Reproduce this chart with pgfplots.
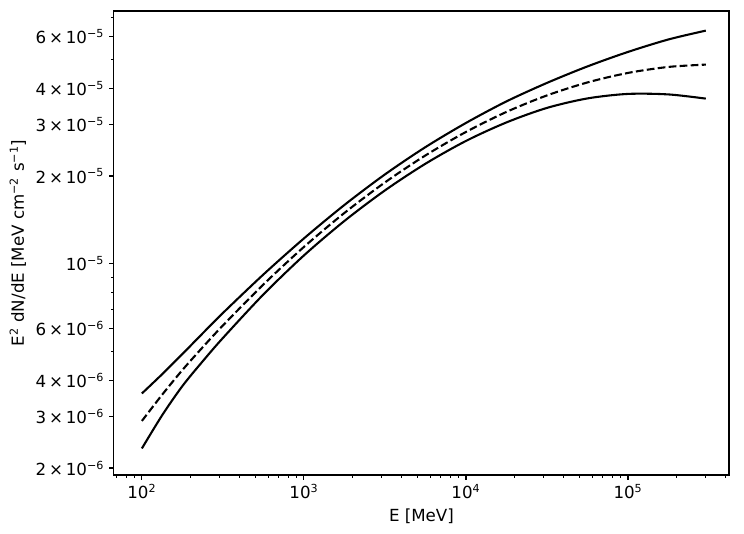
\documentclass[border=0pt]{standalone}
\usepackage{fontspec}
\setmainfont{DejaVu Sans}
\usepackage{pgfplots}
\pgfplotsset{compat=1.18}
\begin{document}
\begin{tikzpicture}
\begin{axis}[name=ax, scale only axis, width=442.8pt, height=334pt,
  xmode=log, ymode=log,
  xmin=67.2, xmax=4.2e5, ymin=1.894e-6, ymax=7.35e-5,
  xtick={100,1000,10000,100000},
  xticklabels={10\textsuperscript{2},10\textsuperscript{3},10\textsuperscript{4},10\textsuperscript{5}},
  minor xtick={70,80,90,200,300,400,500,600,700,800,900,2000,3000,4000,5000,6000,7000,8000,9000,20000,30000,40000,50000,60000,70000,80000,90000,200000,300000,400000},
  ytick={2e-6,3e-6,4e-6,6e-6,1e-5,2e-5,3e-5,4e-5,6e-5},
  yticklabels={2\,×\,10\textsuperscript{−6},3\,×\,10\textsuperscript{−6},4\,×\,10\textsuperscript{−6},6\,×\,10\textsuperscript{−6},10\textsuperscript{−5},2\,×\,10\textsuperscript{−5},3\,×\,10\textsuperscript{−5},4\,×\,10\textsuperscript{−5},6\,×\,10\textsuperscript{−5}},
  minor ytick={5e-6,7e-6,8e-6,9e-6,5e-5,7e-5},
  tick align=outside, tick pos=left,
  major tick length=3.5pt, minor tick length=2pt,
  major tick style={black, line width=0.8pt},
  minor tick style={black, line width=0.6pt},
  axis line style={line width=0.8pt},
  tick label style={font=\fontsize{12}{14}\selectfont},
  label style={font=\fontsize{12}{14}\selectfont},
  xlabel={E [MeV]},
  ylabel={E\textsuperscript{2} dN/dE [MeV cm\textsuperscript{−2} s\textsuperscript{−1}]},
]
\addplot[black, line width=1.5pt, smooth] coordinates {
(100,3.601e-6) (133.35,4.191e-6) (177.83,4.914e-6) (237.14,5.784e-6) (316.23,6.792e-6)
(562.34,9.202e-6) (1000,1.2228e-5) (1778.3,1.5924e-5) (3162.3,2.0257e-5) (5623.4,2.5124e-5)
(10000,3.0401e-5) (17783,3.6036e-5) (31623,4.1687e-5) (56234,4.7479e-5) (100000,5.3223e-5)
(177828,5.8733e-5) (301995,6.2951e-5)
};
\addplot[black, line width=1.5pt, smooth, dash pattern=on 5.55pt off 2.4pt] coordinates {
(100,2.899e-6) (133.35,3.565e-6) (177.83,4.332e-6) (237.14,5.182e-6) (316.23,6.155e-6)
(562.34,8.505e-6) (1000,1.1434e-5) (1778.3,1.4952e-5) (3162.3,1.9019e-5) (5623.4,2.3530e-5)
(10000,2.8317e-5) (17783,3.3167e-5) (31623,3.7776e-5) (56234,4.1843e-5) (100000,4.5102e-5)
(177828,4.7283e-5) (301995,4.8151e-5)
};
\addplot[black, line width=1.5pt, smooth] coordinates {
(100,2.334e-6) (133.35,3.032e-6) (177.83,3.818e-6) (237.14,4.639e-6) (316.23,5.577e-6)
(562.34,7.862e-6) (1000,1.0693e-5) (1778.3,1.4037e-5) (3162.3,1.7857e-5) (5623.4,2.2039e-5)
(10000,2.6379e-5) (17783,3.0527e-5) (31623,3.4231e-5) (56234,3.6889e-5) (100000,3.8222e-5)
(177828,3.8064e-5) (301995,3.6830e-5)
};
\end{axis}
\pgfresetboundingbox
\path ([shift={(-82pt,-42.5pt)}]ax.south west) rectangle ([shift={(10.8pt,7.9pt)}]ax.north east);
\end{tikzpicture}
\end{document}
